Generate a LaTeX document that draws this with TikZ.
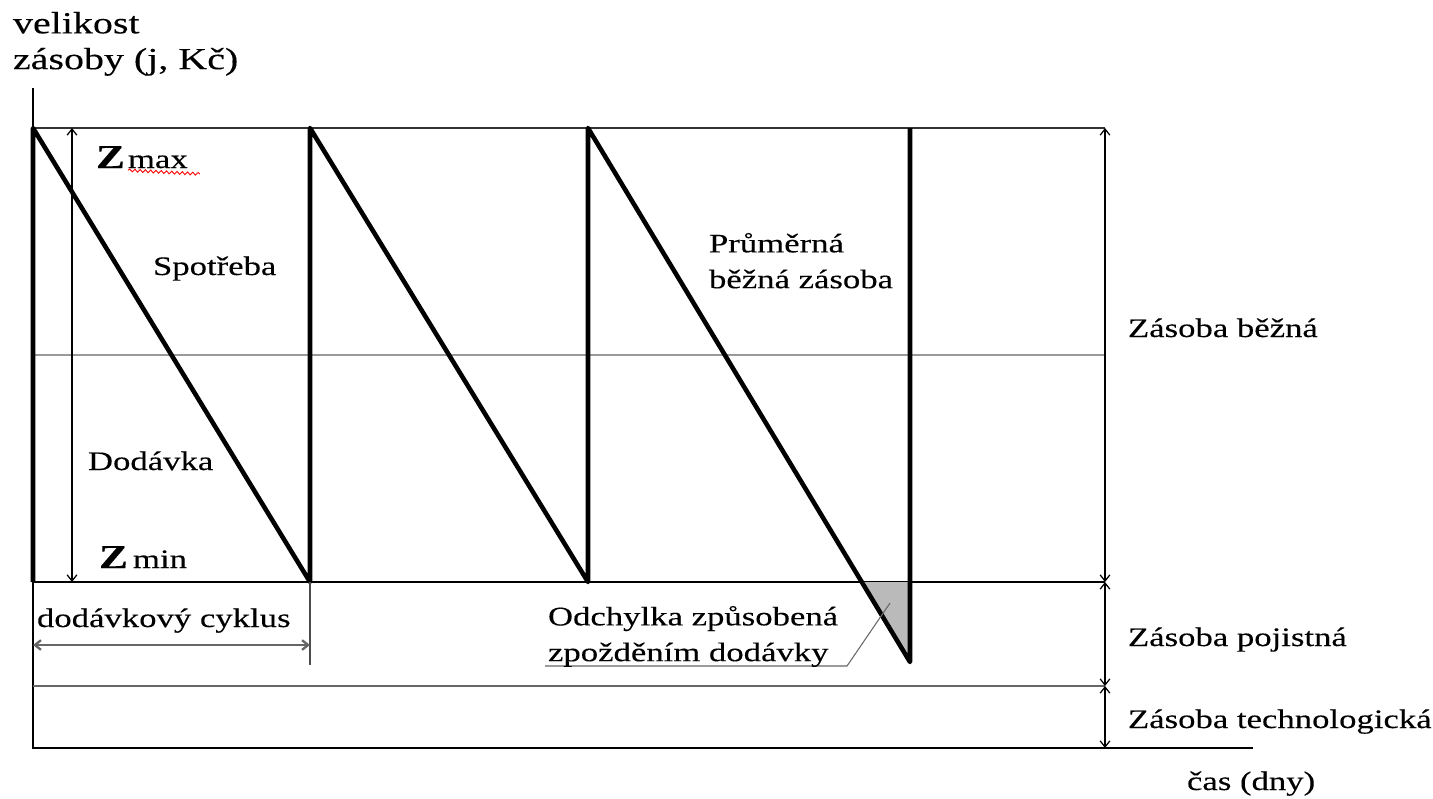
\documentclass[tikz,border=0pt]{standalone}
\usepackage{fontspec}
\setmainfont[FakeStretch=1.3,FakeBold=0.25]{Liberation Serif}
\usetikzlibrary{arrows.meta,decorations.pathmorphing}

\begin{document}
\begin{tikzpicture}[x=0.02cm,y=-0.02cm,inner sep=0pt,outer sep=0pt,
  stock/.style={line width=2.6pt,line join=round},
  level/.style={line width=0.9pt,black!80},
  dimarrow/.style={{Straight Barb[length=3.5pt,width=5.5pt]}-{Straight Barb[length=3.5pt,width=5.5pt]},line width=0.7pt},
  lbl/.style={font=\fontsize{15.2}{20.4}\selectfont,anchor=base west},
  bigZ/.style={font=\fontsize{19}{19}\selectfont\bfseries,anchor=base west}]
\useasboundingbox (0,0) rectangle (1433,798);
% axes
\coordinate (O) at (33,748);
\coordinate (ytop) at (33,88);
\coordinate (xend) at (1253,748);
\draw[level,black] (ytop) -- (O) -- (xend);
% levels
\coordinate (maxL) at (33,128);  \coordinate (maxR) at (1105,128);
\coordinate (midL) at (33,355);  \coordinate (midR) at (1105,355);
\coordinate (minL) at (33,582);  \coordinate (minR) at (1105,582);
\coordinate (safL) at (33,686);  \coordinate (safR) at (1105,686);
\coordinate (botR) at (1105,748);
\draw[level] (maxL) -- (maxR);
\draw[level,black!40] (midL) -- (midR);
\draw[level,black] (minL) -- (minR);
\draw[level,black!60] (safL) -- (safR);
% delay triangle
\coordinate (t1) at (310,128); \coordinate (b1) at (310,582);
\coordinate (t2) at (588,128); \coordinate (b2) at (588,582);
\coordinate (t3) at (910,128); \coordinate (b3) at (910,662);
\coordinate (cross) at (862,582);
\fill[black!27] (cross) -- (b3 |- minL) -- (b3) -- cycle;
% sawtooth
\draw[stock] (minL) -- (maxL) -- (b1) -- (t1) -- (b2) -- (t2) -- (b3) -- (t3);
% dimensions
\draw[dimarrow] (72,128) coordinate (zA) -- (72,582) coordinate (zB);
\draw[dimarrow] (maxR) -- (minR);
\draw[dimarrow] (minR) -- (safR);
\draw[dimarrow] (safR) -- (botR);
\draw[line width=0.7pt,black!70] (b1) -- (310,665) coordinate (cycEnd);
\draw[dimarrow,line width=1.3pt,black!60] (33,645) coordinate (cycA) -- (310,645) coordinate (cycB);
\draw[line width=0.6pt,black!60] (545,666) coordinate (ldA) -- (847,666) coordinate (ldB) -- (890,603) coordinate (ldC);
% labels
\node[font=\fontsize{17.5}{20.4}\selectfont,anchor=north west,align=left] (ylab) at (13,12) {velikost\\zásoby (j, Kč)};
\node[bigZ] (zmaxZ) at (96,168) {Z};
\node[lbl] (zmax) at (128,168) {max};
\draw[red,line width=0.5pt,decorate,decoration={snake,amplitude=0.8pt,segment length=3pt}] (zmax.south west) ++(0,2) coordinate (wvA) -- (200,174) coordinate (wvB);
\node[lbl] (spot) at (153,275) {Spotřeba};
\node[lbl] (dod) at (88,470) {Dodávka};
\node[bigZ] (zminZ) at (99,568) {Z};
\node[lbl] (zmin) at (133,568) {min};
\node[lbl] (cyc) at (37,627) {dodávkový cyklus};
\node[font=\fontsize{15.2}{20.4}\selectfont,anchor=north west,align=left] (avg) at (709,233) {Průměrná\\běžná zásoba};
\node[font=\fontsize{15.2}{20.4}\selectfont,anchor=north west,align=left] (odch) at (548,606) {Odchylka způsobená\\zpožděním dodávky};
\node[lbl] (zbez) at (1128,337) {Zásoba běžná};
\node[lbl] (zpoj) at (1128,646) {Zásoba pojistná};
\node[lbl] (ztech) at (1128,728) {Zásoba technologická};
\node[lbl] (cas) at (1187,790) {čas (dny)};
\end{tikzpicture}
\end{document}
